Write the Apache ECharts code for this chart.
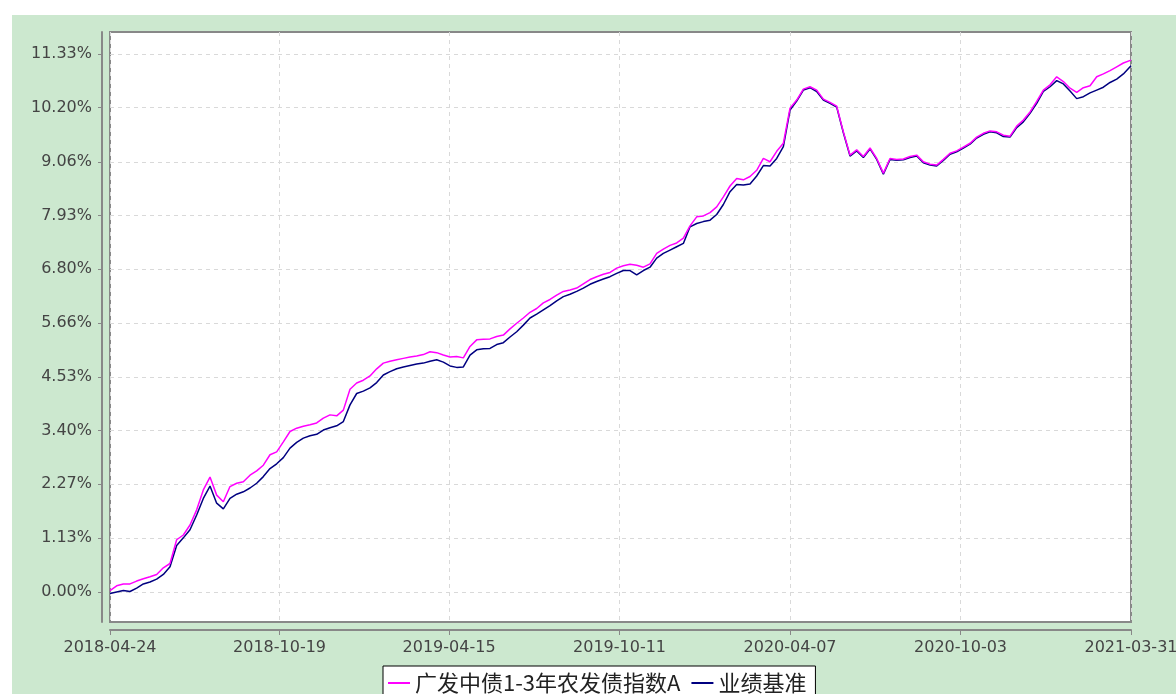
<!DOCTYPE html>
<html>
<head>
<meta charset="utf-8">
<title>广发中债1-3年农发债指数A</title>
<script src="https://cdn.jsdelivr.net/npm/echarts@6/dist/echarts.min.js"></script>
<style>
  html, body { margin: 0; padding: 0; background: #fff; }
  .wrap { position: relative; width: 1176px; height: 694px; overflow: hidden; }
  .panel { position: absolute; left: 12px; top: 15px; right: 0; bottom: 0; background: #cce8cf; }
  #chart { position: absolute; left: 0; top: 0; width: 1176px; height: 694px; }
</style>
</head>
<body>
<div class="wrap">
  <!-- 绿色底板 -->
  <div class="panel"></div>
  <div id="chart"></div>
</div>
<script>
// 系列名称
var seriesNames = ['广发中债1-3年农发债指数A', '业绩基准']

// 横轴刻度 / 纵轴刻度
var xTickLabels = ['2018-04-24', '2018-10-19', '2019-04-15', '2019-10-11', '2020-04-07', '2020-10-03', '2021-03-31']
var yTickLabels = ['0.00%', '1.13%', '2.27%', '3.40%', '4.53%', '5.66%', '6.80%', '7.93%', '9.06%', '10.20%', '11.33%']
var yMin = -0.632
var yMax = 11.793

// 日期（按周取样）
var dates = [
  '2018-04-24', '2018-05-01', '2018-05-08', '2018-05-15', '2018-05-22', '2018-05-29', '2018-06-05', '2018-06-12', '2018-06-19', '2018-06-26',
  '2018-07-03', '2018-07-10', '2018-07-17', '2018-07-24', '2018-07-31', '2018-08-07', '2018-08-14', '2018-08-21', '2018-08-28', '2018-09-04',
  '2018-09-11', '2018-09-18', '2018-09-25', '2018-10-02', '2018-10-09', '2018-10-16', '2018-10-23', '2018-10-30', '2018-11-06', '2018-11-13',
  '2018-11-20', '2018-11-27', '2018-12-04', '2018-12-11', '2018-12-18', '2018-12-25', '2019-01-01', '2019-01-08', '2019-01-15', '2019-01-22',
  '2019-01-29', '2019-02-05', '2019-02-12', '2019-02-19', '2019-02-26', '2019-03-05', '2019-03-12', '2019-03-19', '2019-03-26', '2019-04-02',
  '2019-04-09', '2019-04-16', '2019-04-23', '2019-04-30', '2019-05-07', '2019-05-14', '2019-05-21', '2019-05-28', '2019-06-04', '2019-06-11',
  '2019-06-18', '2019-06-25', '2019-07-02', '2019-07-09', '2019-07-16', '2019-07-23', '2019-07-30', '2019-08-06', '2019-08-13', '2019-08-20',
  '2019-08-27', '2019-09-03', '2019-09-10', '2019-09-17', '2019-09-24', '2019-10-01', '2019-10-08', '2019-10-15', '2019-10-22', '2019-10-29',
  '2019-11-05', '2019-11-12', '2019-11-19', '2019-11-26', '2019-12-03', '2019-12-10', '2019-12-17', '2019-12-24', '2019-12-31', '2020-01-07',
  '2020-01-14', '2020-01-21', '2020-01-28', '2020-02-04', '2020-02-11', '2020-02-18', '2020-02-25', '2020-03-03', '2020-03-10', '2020-03-17',
  '2020-03-24', '2020-03-31', '2020-04-07', '2020-04-14', '2020-04-21', '2020-04-28', '2020-05-05', '2020-05-12', '2020-05-19', '2020-05-26',
  '2020-06-02', '2020-06-09', '2020-06-16', '2020-06-23', '2020-06-30', '2020-07-07', '2020-07-14', '2020-07-21', '2020-07-28', '2020-08-04',
  '2020-08-11', '2020-08-18', '2020-08-25', '2020-09-01', '2020-09-08', '2020-09-15', '2020-09-22', '2020-09-29', '2020-10-06', '2020-10-13',
  '2020-10-20', '2020-10-27', '2020-11-03', '2020-11-10', '2020-11-17', '2020-11-24', '2020-12-01', '2020-12-08', '2020-12-15', '2020-12-22',
  '2020-12-29', '2021-01-05', '2021-01-12', '2021-01-19', '2021-01-26', '2021-02-02', '2021-02-09', '2021-02-16', '2021-02-23', '2021-03-02',
  '2021-03-09', '2021-03-16', '2021-03-23', '2021-03-31'
]

// 累计收益率（%）
var fundValues = [
  0.03, 0.13, 0.17, 0.17, 0.23, 0.28, 0.32, 0.37, 0.51, 0.60,
  1.10, 1.20, 1.41, 1.73, 2.15, 2.42, 2.04, 1.90, 2.22, 2.29,
  2.32, 2.46, 2.55, 2.67, 2.89, 2.95, 3.16, 3.38, 3.45, 3.49,
  3.52, 3.56, 3.66, 3.73, 3.71, 3.83, 4.27, 4.40, 4.46, 4.55,
  4.70, 4.82, 4.86, 4.89, 4.92, 4.95, 4.97, 5.00, 5.06, 5.04,
  4.99, 4.95, 4.96, 4.93, 5.17, 5.31, 5.32, 5.33, 5.38, 5.41,
  5.54, 5.66, 5.77, 5.89, 5.97, 6.09, 6.16, 6.25, 6.33, 6.36,
  6.40, 6.49, 6.58, 6.64, 6.69, 6.73, 6.82, 6.87, 6.90, 6.88,
  6.84, 6.91, 7.13, 7.22, 7.30, 7.35, 7.45, 7.71, 7.90, 7.92,
  7.99, 8.11, 8.32, 8.55, 8.71, 8.68, 8.75, 8.88, 9.13, 9.06,
  9.28, 9.45, 10.19, 10.36, 10.59, 10.64, 10.57, 10.38, 10.31, 10.23,
  9.69, 9.20, 9.31, 9.17, 9.35, 9.13, 8.82, 9.13, 9.11, 9.12,
  9.17, 9.20, 9.06, 9.01, 8.99, 9.11, 9.24, 9.29, 9.37, 9.45,
  9.58, 9.66, 9.71, 9.69, 9.62, 9.60, 9.81, 9.94, 10.11, 10.33,
  10.57, 10.68, 10.85, 10.75, 10.61, 10.52, 10.62, 10.66, 10.85, 10.91,
  10.98, 11.06, 11.14, 11.20
]

var benchValues = [
  -0.03, 0.00, 0.03, 0.01, 0.08, 0.17, 0.21, 0.27, 0.37, 0.53,
  0.98, 1.14, 1.31, 1.62, 1.97, 2.23, 1.87, 1.75, 1.97, 2.06,
  2.11, 2.19, 2.29, 2.43, 2.60, 2.70, 2.83, 3.03, 3.15, 3.24,
  3.29, 3.32, 3.41, 3.46, 3.50, 3.59, 3.94, 4.18, 4.23, 4.30,
  4.41, 4.57, 4.64, 4.70, 4.74, 4.77, 4.80, 4.82, 4.86, 4.89,
  4.84, 4.76, 4.73, 4.74, 4.99, 5.10, 5.12, 5.13, 5.21, 5.25,
  5.37, 5.48, 5.62, 5.77, 5.85, 5.94, 6.03, 6.13, 6.22, 6.27,
  6.33, 6.40, 6.48, 6.54, 6.59, 6.64, 6.71, 6.77, 6.77, 6.68,
  6.77, 6.84, 7.03, 7.13, 7.20, 7.27, 7.34, 7.69, 7.76, 7.80,
  7.83, 7.95, 8.16, 8.43, 8.58, 8.57, 8.59, 8.76, 8.98, 8.97,
  9.13, 9.38, 10.15, 10.34, 10.57, 10.62, 10.54, 10.36, 10.29, 10.21,
  9.67, 9.18, 9.29, 9.15, 9.33, 9.11, 8.80, 9.11, 9.09, 9.10,
  9.15, 9.18, 9.04, 8.99, 8.97, 9.09, 9.22, 9.27, 9.35, 9.43,
  9.56, 9.64, 9.69, 9.67, 9.59, 9.58, 9.78, 9.90, 10.08, 10.29,
  10.54, 10.64, 10.77, 10.70, 10.55, 10.39, 10.43, 10.51, 10.57, 10.63,
  10.73, 10.80, 10.91, 11.08
]

function toTime(s) {
  return new Date(s + 'T00:00:00').getTime()
}
function pad(n) {
  return n < 10 ? '0' + n : '' + n
}
function fmtDate(v) {
  var d = new Date(v)
  return d.getFullYear() + '-' + pad(d.getMonth() + 1) + '-' + pad(d.getDate())
}

var xTicks = xTickLabels.map(toTime)
var yTicks = yTickLabels.map(function (s) { return parseFloat(s) })
var fundData = dates.map(function (d, i) { return [toTime(d), fundValues[i]] })
var benchData = dates.map(function (d, i) { return [toTime(d), benchValues[i]] })

var axisFont = { color: '#444', fontSize: 16, fontFamily: 'DejaVu Sans' }
var gridLine = { show: true, lineStyle: { color: '#d9d9d9', width: 1, type: [4, 4] } }

var myChart = echarts.init(document.getElementById('chart'))
var option = {
  animation: false,
  grid: {
    left: 110,
    right: 45,
    top: 32,
    bottom: 72,
    outerBoundsMode: 'none',
    show: true,
    backgroundColor: '#fff',
    borderColor: '#888',
    borderWidth: 2
  },
  legend: {
    data: seriesNames,
    left: 383,
    top: 666,
    icon: 'rect',
    itemWidth: 22,
    itemHeight: 2,
    itemGap: 11,
    padding: [6, 9, 12, 5],
    backgroundColor: '#fff',
    borderColor: '#000',
    borderWidth: 1,
    textStyle: { fontSize: 22, fontFamily: 'Noto Sans CJK SC', color: '#222' }
  },
  // 日期轴用数值轴表示（时间戳），刻度自定义
  xAxis: {
    type: 'value',
    min: xTicks[0],
    max: xTicks[xTicks.length - 1],
    offset: 8,
    axisLine: { onZero: false, lineStyle: { color: '#888', width: 2 } },
    axisTick: { show: true, customValues: xTicks, length: 5, lineStyle: { color: '#888' } },
    axisLabel: Object.assign({ customValues: xTicks, formatter: fmtDate, margin: 10, hideOverlap: false }, axisFont),
    splitLine: gridLine
  },
  yAxis: {
    type: 'value',
    min: yMin,
    max: yMax,
    offset: 8,
    axisLine: { show: true, onZero: false, lineStyle: { color: '#888', width: 2 } },
    axisTick: { show: true, customValues: yTicks, length: 4, lineStyle: { color: '#888' } },
    axisLabel: Object.assign({
      customValues: yTicks,
      margin: 10,
      formatter: function (v) { return v.toFixed(2) + '%' }
    }, axisFont),
    splitLine: gridLine
  },
  series: [{
    name: seriesNames[0],
    type: 'line',
    data: fundData,
    symbol: 'none',
    z: 3,
    lineStyle: { color: '#ff00ff', width: 1.5 },
    itemStyle: { color: '#ff00ff' }
  }, {
    name: seriesNames[1],
    type: 'line',
    data: benchData,
    symbol: 'none',
    z: 2,
    lineStyle: { color: '#000080', width: 1.5 },
    itemStyle: { color: '#000080' }
  }]
}
myChart.setOption(option)
</script>
</body>
</html>
